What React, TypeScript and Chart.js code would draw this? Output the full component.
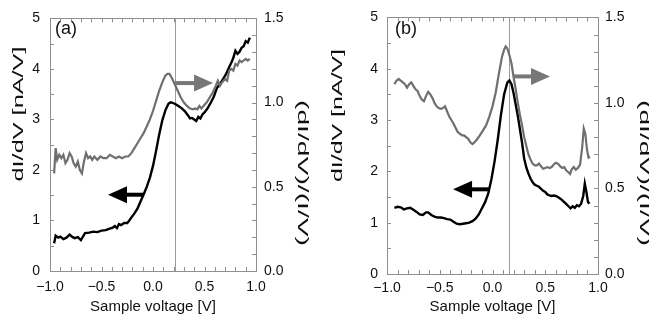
import React, { useEffect, useRef } from "react";
import { Chart, registerables } from "chart.js";

Chart.register(...registerables);

// ---------------- data ----------------
const xTickLabels = ["−1.0", "−0.5", "0.0", "0.5", "1.0"];
const leftTickLabels = ["0", "1", "2", "3", "4", "5"];
const rightTickLabels = ["0.0", "0.5", "1.0", "1.5"];

const xTitle = "Sample voltage [V]";
const leftTitle = "dI/dV [nA/V]";
const rightTitle = "(dI/dV)/(I/V)";
const panelLabels = ["(a)", "(b)"];

// panel (a): dI/dV (left axis, black)
const aBlackV = [-0.96,-0.945,-0.92,-0.90,-0.87,-0.84,-0.81,-0.78,-0.76,-0.73,-0.70,-0.68,-0.66,-0.62,-0.58,-0.54,-0.50,-0.46,-0.42,-0.39,-0.37,-0.35,-0.33,-0.31,-0.28,-0.25,-0.23,-0.21,-0.18,-0.15,-0.12,-0.09,-0.06,-0.03,0.00,0.03,0.06,0.09,0.12,0.15,0.17,0.19,0.22,0.25,0.28,0.31,0.34,0.36,0.38,0.40,0.42,0.44,0.46,0.48,0.50,0.53,0.56,0.59,0.62,0.65,0.68,0.71,0.74,0.76,0.78,0.80,0.82,0.84,0.86,0.88,0.90,0.92,0.94];
const aBlackDIDV = [0.55,0.70,0.66,0.68,0.63,0.66,0.72,0.67,0.65,0.67,0.61,0.68,0.75,0.76,0.78,0.77,0.80,0.81,0.84,0.86,0.89,0.85,0.93,0.91,0.95,0.95,1.00,1.06,1.14,1.24,1.38,1.52,1.67,1.85,2.08,2.38,2.70,2.98,3.18,3.31,3.34,3.33,3.30,3.26,3.22,3.16,3.08,3.02,3.03,3.00,2.97,3.05,3.02,3.10,3.14,3.22,3.33,3.45,3.62,3.70,3.80,3.90,4.04,4.12,4.22,4.36,4.30,4.34,4.42,4.45,4.55,4.52,4.62];
// panel (a): normalized (right axis, gray)
const aGrayV = [-0.96,-0.945,-0.93,-0.91,-0.89,-0.87,-0.85,-0.83,-0.81,-0.79,-0.77,-0.75,-0.73,-0.71,-0.69,-0.67,-0.65,-0.63,-0.61,-0.59,-0.57,-0.54,-0.51,-0.48,-0.45,-0.42,-0.39,-0.36,-0.33,-0.30,-0.27,-0.24,-0.21,-0.18,-0.15,-0.12,-0.09,-0.06,-0.03,0.00,0.03,0.06,0.09,0.12,0.14,0.16,0.18,0.21,0.24,0.27,0.30,0.33,0.36,0.39,0.41,0.43,0.45,0.47,0.49,0.52,0.55,0.58,0.61,0.63,0.65,0.67,0.70,0.72,0.74,0.76,0.78,0.80,0.82,0.84,0.86,0.88,0.90,0.92,0.94];
const aGrayNorm = [0.58,0.73,0.66,0.69,0.67,0.69,0.64,0.66,0.70,0.68,0.64,0.62,0.65,0.60,0.58,0.65,0.70,0.67,0.68,0.66,0.68,0.66,0.68,0.67,0.67,0.69,0.68,0.67,0.68,0.67,0.68,0.68,0.70,0.73,0.76,0.79,0.82,0.86,0.90,0.95,1.01,1.07,1.12,1.16,1.17,1.17,1.15,1.11,1.07,1.03,1.00,0.98,0.965,0.96,0.965,0.96,0.98,0.965,0.98,1.00,1.03,1.06,1.10,1.13,1.10,1.12,1.14,1.13,1.19,1.20,1.19,1.23,1.22,1.25,1.24,1.25,1.26,1.25,1.26];

// panel (b)
const bBlackV = [-0.93,-0.90,-0.87,-0.84,-0.81,-0.78,-0.75,-0.72,-0.69,-0.66,-0.63,-0.61,-0.58,-0.55,-0.52,-0.49,-0.46,-0.43,-0.40,-0.37,-0.34,-0.31,-0.28,-0.25,-0.22,-0.19,-0.16,-0.13,-0.10,-0.07,-0.04,-0.01,0.02,0.05,0.08,0.11,0.14,0.16,0.18,0.20,0.22,0.24,0.26,0.28,0.30,0.32,0.34,0.36,0.38,0.40,0.42,0.44,0.46,0.48,0.50,0.52,0.54,0.56,0.58,0.60,0.62,0.64,0.66,0.68,0.70,0.72,0.74,0.76,0.78,0.80,0.82,0.84,0.86,0.875,0.89,0.905,0.92];
const bBlackDIDV = [1.29,1.31,1.30,1.26,1.28,1.29,1.25,1.21,1.16,1.15,1.20,1.20,1.15,1.12,1.10,1.10,1.09,1.07,1.06,1.02,0.98,0.97,0.98,0.99,1.00,1.03,1.08,1.16,1.28,1.40,1.57,1.85,2.20,2.62,3.10,3.50,3.73,3.77,3.70,3.52,3.30,3.08,2.82,2.56,2.25,2.08,1.96,1.86,1.79,1.74,1.72,1.70,1.66,1.62,1.60,1.55,1.53,1.52,1.53,1.52,1.50,1.47,1.44,1.40,1.36,1.32,1.28,1.32,1.29,1.34,1.32,1.37,1.52,1.76,1.60,1.40,1.37];
const bGrayV = [-0.93,-0.91,-0.89,-0.87,-0.85,-0.83,-0.81,-0.79,-0.77,-0.75,-0.73,-0.71,-0.69,-0.67,-0.65,-0.63,-0.61,-0.59,-0.57,-0.55,-0.53,-0.51,-0.49,-0.47,-0.45,-0.43,-0.41,-0.39,-0.37,-0.35,-0.33,-0.31,-0.29,-0.27,-0.25,-0.23,-0.21,-0.19,-0.17,-0.15,-0.12,-0.09,-0.06,-0.03,0.00,0.03,0.06,0.09,0.11,0.125,0.14,0.16,0.18,0.20,0.22,0.24,0.26,0.28,0.30,0.32,0.34,0.36,0.38,0.40,0.42,0.44,0.46,0.48,0.50,0.52,0.54,0.56,0.58,0.60,0.62,0.64,0.66,0.68,0.70,0.72,0.735,0.75,0.77,0.79,0.81,0.83,0.85,0.865,0.88,0.895,0.91,0.925];
const bGrayNorm = [1.11,1.13,1.14,1.13,1.12,1.11,1.09,1.11,1.12,1.10,1.08,1.07,1.04,1.02,1.01,1.04,1.065,1.05,1.03,1.00,0.98,0.97,0.965,0.97,0.98,0.95,0.92,0.90,0.88,0.855,0.83,0.82,0.81,0.81,0.80,0.79,0.77,0.76,0.77,0.785,0.81,0.84,0.87,0.92,0.98,1.06,1.17,1.27,1.31,1.33,1.32,1.28,1.23,1.15,1.08,1.00,0.93,0.87,0.80,0.75,0.70,0.67,0.645,0.635,0.635,0.645,0.63,0.615,0.62,0.625,0.62,0.625,0.64,0.65,0.645,0.63,0.62,0.625,0.605,0.595,0.585,0.61,0.625,0.61,0.62,0.64,0.74,0.85,0.82,0.73,0.68,0.685];

// vertical marker voltage
const aMarkerV = 0.21;
const bMarkerV = 0.16;
// arrows: [from voltage, to voltage, level on its axis]
const aGrayArrow = [0.215, 0.583, 1.116];
const aBlackArrow = [-0.097, -0.437, 1.51];
const bGrayArrow = [0.194, 0.545, 1.155];
const bBlackArrow = [-0.024, -0.374, 1.65];

// ---------------- drawing helpers ----------------
const FONT = "'Liberation Sans', Arial, Helvetica, sans-serif";
const FRAME = "#8f8f8f";
const GRAY = "#6f6f6f";

function drawArrow(chart: any, arr: any, axisId: string, color: string) {
  const { ctx, scales } = chart;
  const x0 = scales.x.getPixelForValue(arr[0]);
  const x1 = scales.x.getPixelForValue(arr[1]);
  const y = scales[axisId].getPixelForValue(arr[2]);
  const dir = x1 > x0 ? 1 : -1;
  const headLen = 19;
  const headHalf = 8.5;
  ctx.save();
  ctx.strokeStyle = color;
  ctx.fillStyle = color;
  ctx.lineWidth = 4;
  ctx.beginPath();
  ctx.moveTo(x0, y);
  ctx.lineTo(x1 - dir * (headLen - 2), y);
  ctx.stroke();
  ctx.beginPath();
  ctx.moveTo(x1, y);
  ctx.lineTo(x1 - dir * headLen, y - headHalf);
  ctx.lineTo(x1 - dir * headLen, y + headHalf);
  ctx.closePath();
  ctx.fill();
  ctx.restore();
}

function drawStretched(ctx: CanvasRenderingContext2D, text: string, cx: number, cy: number, rot: number, len: number) {
  ctx.save();
  ctx.font = `14px ${FONT}`;
  const w = ctx.measureText(text).width;
  ctx.translate(cx, cy);
  ctx.rotate(rot);
  ctx.scale(len / w, 1);
  ctx.fillStyle = "#111";
  ctx.textAlign = "center";
  ctx.textBaseline = "middle";
  ctx.fillText(text, 0, 0);
  ctx.restore();
}

const decorPlugin = {
  id: "decor",
  beforeDatasetsDraw(chart: any, _args: any, o: any) {
    const { ctx, chartArea: ar, scales } = chart;
    const px = Math.round(scales.x.getPixelForValue(o.marker)) + 0.5;
    ctx.save();
    ctx.strokeStyle = "#9c9c9c";
    ctx.lineWidth = 1;
    ctx.beginPath();
    ctx.moveTo(px, ar.top);
    ctx.lineTo(px, ar.bottom);
    ctx.stroke();
    ctx.restore();
  },
  afterDatasetsDraw(chart: any, _args: any, o: any) {
    drawArrow(chart, o.grayArrow, "y2", "#777777");
    drawArrow(chart, o.blackArrow, "y", "#000000");
  },
  afterDraw(chart: any, _args: any, o: any) {
    const { ctx, chartArea: ar, scales } = chart;
    const tl = 4;
    ctx.save();
    ctx.strokeStyle = FRAME;
    ctx.lineWidth = 1;
    ctx.beginPath();
    for (let i = -10; i <= 10; i++) {
      const x = Math.round(scales.x.getPixelForValue(i / 10)) + 0.5;
      ctx.moveTo(x, ar.bottom);
      ctx.lineTo(x, ar.bottom - tl);
      ctx.moveTo(x, ar.top);
      ctx.lineTo(x, ar.top + tl);
    }
    for (let i = 0; i <= 10; i++) {
      const y = Math.round(scales.y.getPixelForValue(i * 0.5)) + 0.5;
      ctx.moveTo(ar.left, y);
      ctx.lineTo(ar.left + tl, y);
    }
    for (let i = 0; i <= 15; i++) {
      const y = Math.round(scales.y2.getPixelForValue(i / 10)) + 0.5;
      ctx.moveTo(ar.right, y);
      ctx.lineTo(ar.right - tl, y);
    }
    ctx.stroke();
    ctx.restore();

    // panel label
    ctx.save();
    ctx.font = `18px ${FONT}`;
    ctx.fillStyle = "#111";
    ctx.textAlign = "left";
    ctx.textBaseline = "alphabetic";
    ctx.fillText(o.label, ar.left + o.labelDX, 34);
    ctx.restore();

    // axis titles (stretched along reading direction like the original)
    drawStretched(ctx, o.leftTitle, o.lt[0], o.lt[1], -Math.PI / 2, o.lt[2]);
    drawStretched(ctx, o.rightTitle, o.rt[0], o.rt[1], Math.PI / 2, o.rt[2]);
  },
};

interface PanelCfg {
  label: string;
  blackV: number[];
  blackY: number[];
  grayV: number[];
  grayY: number[];
  marker: number;
  grayArrow: number[];
  blackArrow: number[];
  leftW: number;
  rightW: number;
  topH: number;
  bottomH: number;
  leftPad: number;
  rightPad: number;
  bottomPad: number;
  labelDX: number;
  lt: number[];
  rt: number[];
}

const panels: PanelCfg[] = [
  {
    label: panelLabels[0],
    blackV: aBlackV, blackY: aBlackDIDV, grayV: aGrayV, grayY: aGrayNorm,
    marker: aMarkerV, grayArrow: aGrayArrow, blackArrow: aBlackArrow,
    leftW: 50, rightW: 68, topH: 13, bottomH: 55,
    leftPad: 10, rightPad: 8, bottomPad: 8, labelDX: 5,
    lt: [19, 114, 135], rt: [301.5, 173, 146],
  },
  {
    label: panelLabels[1],
    blackV: bBlackV, blackY: bBlackDIDV, grayV: bGrayV, grayY: bGrayNorm,
    marker: bMarkerV, grayArrow: bGrayArrow, blackArrow: bBlackArrow,
    leftW: 62, rightW: 51, topH: 13, bottomH: 52,
    leftPad: 9, rightPad: 7, bottomPad: 6, labelDX: 8,
    lt: [13.5, 115.5, 133], rt: [318.5, 173, 146],
  },
];

function Panel({ cfg, left }: { cfg: PanelCfg; left: number }) {
  const ref = useRef<HTMLCanvasElement>(null);
  useEffect(() => {
    if (!ref.current) return;
    const tickFont = { family: FONT, size: 14 };
    const chart = new Chart(ref.current, {
      type: "line",
      data: {
        datasets: [
          {
            data: cfg.grayV.map((v, i) => ({ x: v, y: cfg.grayY[i] })),
            yAxisID: "y2",
            borderColor: GRAY,
            borderWidth: 2.2,
            pointRadius: 0,
            tension: 0,
            fill: false,
          },
          {
            data: cfg.blackV.map((v, i) => ({ x: v, y: cfg.blackY[i] })),
            yAxisID: "y",
            borderColor: "#000",
            borderWidth: 2.4,
            pointRadius: 0,
            tension: 0,
            fill: false,
          },
        ],
      },
      options: {
        animation: false,
        responsive: false,
        devicePixelRatio: 1,
        layout: { padding: 0 },
        plugins: {
          legend: { display: false },
          tooltip: { enabled: false },
          decor: {
            label: cfg.label,
            marker: cfg.marker,
            grayArrow: cfg.grayArrow,
            blackArrow: cfg.blackArrow,
            labelDX: cfg.labelDX,
            leftTitle,
            rightTitle,
            lt: cfg.lt,
            rt: cfg.rt,
          },
        } as any,
        scales: {
          x: {
            type: "linear",
            position: "bottom",
            min: -1,
            max: 1,
            grid: { display: false, drawTicks: false },
            border: { display: true, color: FRAME, width: 1 },
            ticks: {
              stepSize: 0.5,
              autoSkip: false,
              maxRotation: 0,
              padding: cfg.bottomPad,
              color: "#111",
              font: tickFont,
              callback: (_v: any, i: number) => xTickLabels[i],
            },
            title: {
              display: true,
              text: xTitle,
              color: "#111",
              font: { family: FONT, size: 15 },
              padding: { top: 0, bottom: 10 },
            },
            afterFit: (s: any) => { s.height = cfg.bottomH; },
          },
          xTop: {
            type: "linear",
            axis: "x",
            position: "top",
            min: -1,
            max: 1,
            grid: { display: false, drawTicks: false },
            border: { display: true, color: FRAME, width: 1 },
            ticks: { display: false },
            afterFit: (s: any) => { s.height = cfg.topH; },
          },
          y: {
            type: "linear",
            position: "left",
            min: 0,
            max: 5,
            grid: { display: false, drawTicks: false },
            border: { display: true, color: FRAME, width: 1 },
            ticks: {
              stepSize: 1,
              padding: cfg.leftPad,
              color: "#111",
              font: tickFont,
              callback: (_v: any, i: number) => leftTickLabels[i],
            },
            afterFit: (s: any) => { s.width = cfg.leftW; },
          },
          y2: {
            type: "linear",
            position: "right",
            min: 0,
            max: 1.5,
            grid: { display: false, drawTicks: false },
            border: { display: true, color: FRAME, width: 1 },
            ticks: {
              stepSize: 0.5,
              padding: cfg.rightPad,
              color: "#111",
              font: tickFont,
              callback: (_v: any, i: number) => rightTickLabels[i],
            },
            afterFit: (s: any) => { s.width = cfg.rightW; },
          },
        } as any,
      },
      plugins: [decorPlugin as any],
    } as any);
    return () => chart.destroy();
  }, [cfg]);
  return (
    <canvas
      ref={ref}
      width={324}
      height={326}
      style={{ position: "absolute", left, top: 0, width: 324, height: 326, display: "block" }}
    />
  );
}

export default function App() {
  return (
    <div
      style={{
        position: "fixed",
        left: 0,
        top: 0,
        width: 649,
        height: 326,
        background: "#fff",
        overflow: "hidden",
      }}
    >
      <Panel cfg={panels[0]} left={0} />
      <Panel cfg={panels[1]} left={325} />
    </div>
  );
}
